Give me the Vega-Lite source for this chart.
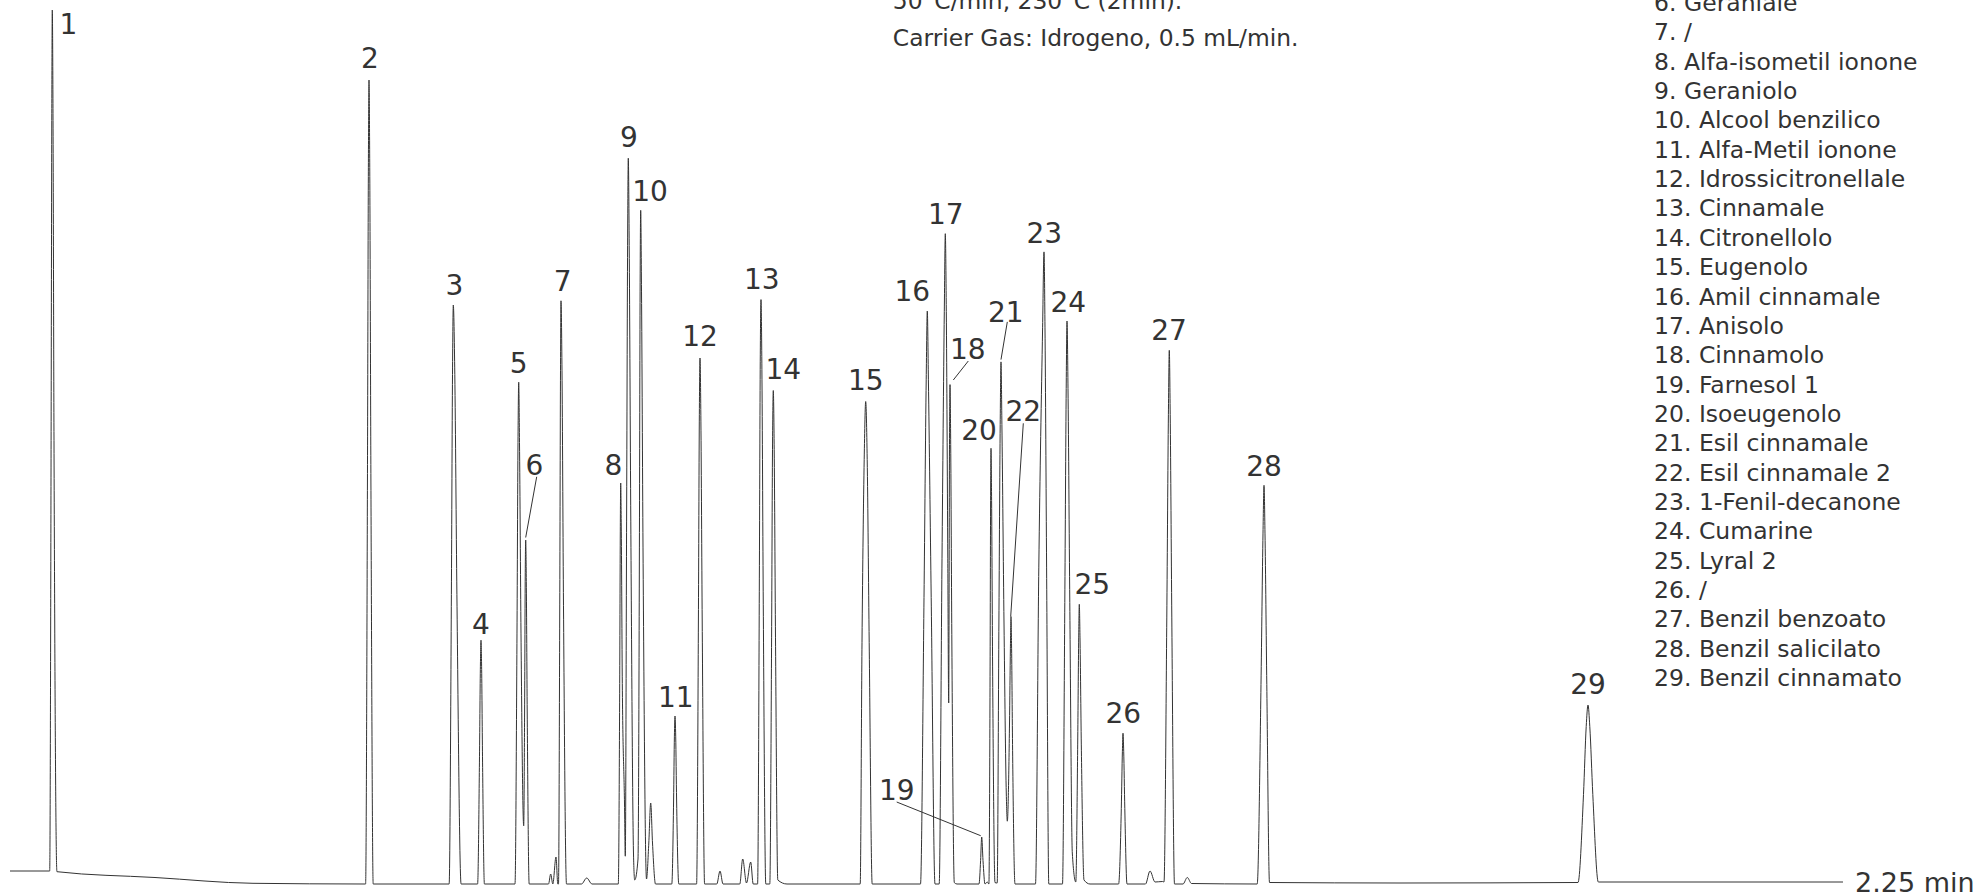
{
  "$schema": "https://vega.github.io/schema/vega-lite/v6.json",
  "width": 1980,
  "height": 893,
  "padding": 0,
  "autosize": {"type": "none"},
  "background": "white",
  "config": {
    "view": {"stroke": null},
    "text": {"font": "DejaVu Sans", "color": "#333333"}
  },
  "resolve": {"scale": {"y": "independent"}},
  "layer": [
    {
      "data": {"values": [
        {"rt": 0, "signal": 1.3},
        {"rt": 0.04873, "signal": 1.3},
        {"rt": 0.05045, "signal": 44.35},
        {"rt": 0.05131, "signal": 77.07},
        {"rt": 0.05192, "signal": 87.4},
        {"rt": 0.05278, "signal": 77.07},
        {"rt": 0.05401, "signal": 44.35},
        {"rt": 0.05762, "signal": 1.23},
        {"rt": 0.17799, "signal": 0.65},
        {"rt": 0.29828, "signal": 0.07},
        {"rt": 0.4365, "signal": 0},
        {"rt": 0.43876, "signal": 40.2},
        {"rt": 0.43987, "signal": 70.75},
        {"rt": 0.44067, "signal": 80.4},
        {"rt": 0.44165, "signal": 70.75},
        {"rt": 0.44303, "signal": 40.2},
        {"rt": 0.44583, "signal": 0},
        {"rt": 0.53904, "signal": 0},
        {"rt": 0.54179, "signal": 28.95},
        {"rt": 0.54317, "signal": 50.95},
        {"rt": 0.54415, "signal": 57.9},
        {"rt": 0.54599, "signal": 50.95},
        {"rt": 0.54857, "signal": 28.95},
        {"rt": 0.55373, "signal": 0},
        {"rt": 0.57398, "signal": 0},
        {"rt": 0.57624, "signal": 12.19},
        {"rt": 0.57736, "signal": 21.45},
        {"rt": 0.57815, "signal": 24.38},
        {"rt": 0.57895, "signal": 21.45},
        {"rt": 0.58007, "signal": 12.19},
        {"rt": 0.58233, "signal": 0},
        {"rt": 0.61989, "signal": 0},
        {"rt": 0.62234, "signal": 25.09},
        {"rt": 0.62357, "signal": 44.16},
        {"rt": 0.62443, "signal": 50.18},
        {"rt": 0.62541, "signal": 44.16},
        {"rt": 0.62725, "signal": 25.09},
        {"rt": 0.63057, "signal": 5.82},
        {"rt": 0.63167, "signal": 17.2},
        {"rt": 0.63241, "signal": 30.27},
        {"rt": 0.63302, "signal": 34.4},
        {"rt": 0.63376, "signal": 30.27},
        {"rt": 0.63487, "signal": 17.2},
        {"rt": 0.63732, "signal": 0},
        {"rt": 0.66102, "signal": 0},
        {"rt": 0.66371, "signal": 1.0},
        {"rt": 0.66629, "signal": 0},
        {"rt": 0.67022, "signal": 2.7},
        {"rt": 0.67242, "signal": 0},
        {"rt": 0.67328, "signal": 0},
        {"rt": 0.67488, "signal": 29.16},
        {"rt": 0.67574, "signal": 51.32},
        {"rt": 0.67635, "signal": 58.32},
        {"rt": 0.67758, "signal": 51.32},
        {"rt": 0.6793, "signal": 29.16},
        {"rt": 0.6831, "signal": 0},
        {"rt": 0.70152, "signal": 0},
        {"rt": 0.7079, "signal": 0.6},
        {"rt": 0.71441, "signal": 0},
        {"rt": 0.74669, "signal": 0},
        {"rt": 0.74841, "signal": 20.05},
        {"rt": 0.74914, "signal": 35.29},
        {"rt": 0.74963, "signal": 40.1},
        {"rt": 0.75037, "signal": 35.29},
        {"rt": 0.7516, "signal": 20.05},
        {"rt": 0.75431, "signal": 8.0},
        {"rt": 0.75528, "signal": 2.78},
        {"rt": 0.75688, "signal": 36.29},
        {"rt": 0.7581, "signal": 63.87},
        {"rt": 0.75896, "signal": 72.58},
        {"rt": 0.76007, "signal": 63.87},
        {"rt": 0.76203, "signal": 36.29},
        {"rt": 0.76535, "signal": 3.0},
        {"rt": 0.76682, "signal": 0.4},
        {"rt": 0.77087, "signal": 2.5},
        {"rt": 0.77259, "signal": 33.69},
        {"rt": 0.77345, "signal": 59.29},
        {"rt": 0.77418, "signal": 67.37},
        {"rt": 0.77517, "signal": 59.29},
        {"rt": 0.77701, "signal": 33.69},
        {"rt": 0.78131, "signal": 0.5},
        {"rt": 0.78413, "signal": 4.1},
        {"rt": 0.78646, "signal": 8.1},
        {"rt": 0.78867, "signal": 4.1},
        {"rt": 0.79236, "signal": 0},
        {"rt": 0.81236, "signal": 0},
        {"rt": 0.81457, "signal": 8.4},
        {"rt": 0.81555, "signal": 14.78},
        {"rt": 0.81629, "signal": 16.8},
        {"rt": 0.81715, "signal": 14.78},
        {"rt": 0.81825, "signal": 8.4},
        {"rt": 0.82095, "signal": 0},
        {"rt": 0.8428, "signal": 0},
        {"rt": 0.84501, "signal": 26.3},
        {"rt": 0.84612, "signal": 46.29},
        {"rt": 0.84698, "signal": 52.6},
        {"rt": 0.84808, "signal": 46.29},
        {"rt": 0.84968, "signal": 26.3},
        {"rt": 0.85262, "signal": 0},
        {"rt": 0.8676, "signal": 0},
        {"rt": 0.87153, "signal": 1.3},
        {"rt": 0.87521, "signal": 0},
        {"rt": 0.89583, "signal": 0},
        {"rt": 0.89939, "signal": 2.5},
        {"rt": 0.90405, "signal": 0.1},
        {"rt": 0.90921, "signal": 2.2},
        {"rt": 0.91228, "signal": 0},
        {"rt": 0.91768, "signal": 0},
        {"rt": 0.91977, "signal": 29.22},
        {"rt": 0.92087, "signal": 51.43},
        {"rt": 0.92185, "signal": 58.44},
        {"rt": 0.92296, "signal": 51.43},
        {"rt": 0.92455, "signal": 29.22},
        {"rt": 0.92774, "signal": 0},
        {"rt": 0.93265, "signal": 0},
        {"rt": 0.93486, "signal": 24.68},
        {"rt": 0.93597, "signal": 43.43},
        {"rt": 0.93695, "signal": 49.35},
        {"rt": 0.93806, "signal": 43.43},
        {"rt": 0.93965, "signal": 24.68},
        {"rt": 0.94247, "signal": 0.4},
        {"rt": 0.95377, "signal": 0},
        {"rt": 1.04362, "signal": 0},
        {"rt": 1.04583, "signal": 24.13},
        {"rt": 1.04853, "signal": 42.46},
        {"rt": 1.05037, "signal": 48.25},
        {"rt": 1.05221, "signal": 42.46},
        {"rt": 1.05467, "signal": 24.13},
        {"rt": 1.05835, "signal": 0},
        {"rt": 1.11764, "signal": 0},
        {"rt": 1.12194, "signal": 28.65},
        {"rt": 1.12464, "signal": 50.42},
        {"rt": 1.12599, "signal": 57.3},
        {"rt": 1.12734, "signal": 50.42},
        {"rt": 1.13077, "signal": 28.65},
        {"rt": 1.13544, "signal": 0},
        {"rt": 1.14059, "signal": 0},
        {"rt": 1.14403, "signal": 32.52},
        {"rt": 1.14685, "signal": 57.23},
        {"rt": 1.14808, "signal": 65.03},
        {"rt": 1.14931, "signal": 57.23},
        {"rt": 1.15115, "signal": 32.52},
        {"rt": 1.15225, "signal": 18.1},
        {"rt": 1.15324, "signal": 43.95},
        {"rt": 1.15385, "signal": 49.94},
        {"rt": 1.15471, "signal": 43.95},
        {"rt": 1.15606, "signal": 24.97},
        {"rt": 1.15913, "signal": 0.14},
        {"rt": 1.16244, "signal": 0},
        {"rt": 1.18945, "signal": 0},
        {"rt": 1.19141, "signal": 2.35},
        {"rt": 1.19276, "signal": 4.7},
        {"rt": 1.19436, "signal": 2.35},
        {"rt": 1.19681, "signal": 0},
        {"rt": 1.19964, "signal": 0.2},
        {"rt": 1.2016, "signal": 0},
        {"rt": 1.20307, "signal": 21.79},
        {"rt": 1.20369, "signal": 38.34},
        {"rt": 1.20418, "signal": 43.57},
        {"rt": 1.20491, "signal": 38.34},
        {"rt": 1.20614, "signal": 21.79},
        {"rt": 1.20909, "signal": 0.14},
        {"rt": 1.21179, "signal": 0.1},
        {"rt": 1.21387, "signal": 26.1},
        {"rt": 1.21547, "signal": 45.94},
        {"rt": 1.21645, "signal": 52.21},
        {"rt": 1.21756, "signal": 45.94},
        {"rt": 1.22014, "signal": 26.1},
        {"rt": 1.22296, "signal": 9.0},
        {"rt": 1.22419, "signal": 6.28},
        {"rt": 1.22689, "signal": 16.0},
        {"rt": 1.22799, "signal": 23.53},
        {"rt": 1.22873, "signal": 26.74},
        {"rt": 1.22946, "signal": 23.53},
        {"rt": 1.23069, "signal": 13.37},
        {"rt": 1.23364, "signal": 0},
        {"rt": 1.2588, "signal": 0},
        {"rt": 1.26285, "signal": 31.61},
        {"rt": 1.26752, "signal": 55.62},
        {"rt": 1.26924, "signal": 63.21},
        {"rt": 1.27046, "signal": 55.62},
        {"rt": 1.27243, "signal": 31.61},
        {"rt": 1.27513, "signal": 0},
        {"rt": 1.29194, "signal": 0},
        {"rt": 1.29477, "signal": 28.15},
        {"rt": 1.29649, "signal": 49.54},
        {"rt": 1.29747, "signal": 56.3},
        {"rt": 1.2987, "signal": 49.54},
        {"rt": 1.3009, "signal": 28.15},
        {"rt": 1.30397, "signal": 3.1},
        {"rt": 1.30827, "signal": 0.2},
        {"rt": 1.3106, "signal": 13.99},
        {"rt": 1.31183, "signal": 24.61},
        {"rt": 1.31257, "signal": 27.97},
        {"rt": 1.31343, "signal": 24.61},
        {"rt": 1.31502, "signal": 13.99},
        {"rt": 1.31834, "signal": 0.4},
        {"rt": 1.3257, "signal": 0},
        {"rt": 1.36081, "signal": 0},
        {"rt": 1.36412, "signal": 7.54},
        {"rt": 1.36547, "signal": 13.27},
        {"rt": 1.36621, "signal": 15.08},
        {"rt": 1.36707, "signal": 13.27},
        {"rt": 1.36842, "signal": 7.54},
        {"rt": 1.37112, "signal": 0},
        {"rt": 1.39383, "signal": 0},
        {"rt": 1.39935, "signal": 1.3},
        {"rt": 1.40549, "signal": 0.2},
        {"rt": 1.41469, "signal": 0.25},
        {"rt": 1.41654, "signal": 0.2},
        {"rt": 1.41997, "signal": 26.69},
        {"rt": 1.42194, "signal": 46.97},
        {"rt": 1.42304, "signal": 53.37},
        {"rt": 1.42415, "signal": 46.97},
        {"rt": 1.42611, "signal": 26.69},
        {"rt": 1.42942, "signal": 0},
        {"rt": 1.43986, "signal": 0},
        {"rt": 1.44513, "signal": 0.65},
        {"rt": 1.45029, "signal": 0.05},
        {"rt": 1.53094, "signal": 0},
        {"rt": 1.5356, "signal": 19.94},
        {"rt": 1.53806, "signal": 35.09},
        {"rt": 1.53929, "signal": 39.87},
        {"rt": 1.54051, "signal": 35.09},
        {"rt": 1.54272, "signal": 19.94},
        {"rt": 1.54604, "signal": 0.15},
        {"rt": 1.70623, "signal": 0.1},
        {"rt": 1.92472, "signal": 0.15},
        {"rt": 1.93147, "signal": 8.95},
        {"rt": 1.93479, "signal": 15.75},
        {"rt": 1.937, "signal": 17.9},
        {"rt": 1.9392, "signal": 15.75},
        {"rt": 1.94289, "signal": 8.95},
        {"rt": 1.94964, "signal": 0.2},
        {"rt": 2.25, "signal": 0.2}
      ]},
      "mark": {"type": "line", "interpolate": "monotone", "color": "#333333", "strokeWidth": 1, "clip": false},
      "encoding": {
        "x": {"field": "rt", "type": "quantitative", "scale": {"domain": [-0.012275, 2.418175], "nice": false, "zero": false}, "axis": null},
        "y": {"field": "signal", "type": "quantitative", "scale": {"domain": [-0.9, 88.4], "nice": false, "zero": false}, "axis": null}
      }
    },
    {
      "data": {"values": [
        {"peak": 6, "rt": 0.64652, "sig": 40.72, "rt2": 0.63302, "sig2": 34.65},
        {"peak": 18, "rt": 1.17631, "sig": 52.3, "rt2": 1.1579, "sig2": 50.4},
        {"peak": 19, "rt": 1.08842, "sig": 8.2, "rt2": 1.19153, "sig2": 4.83},
        {"peak": 21, "rt": 1.22419, "sig": 56.21, "rt2": 1.21645, "sig2": 52.44},
        {"peak": 22, "rt": 1.24383, "sig": 46.07, "rt2": 1.22836, "sig2": 26.74}
      ]},
      "mark": {"type": "rule", "color": "#333333", "strokeWidth": 1},
      "encoding": {
        "x": {"field": "rt", "type": "quantitative", "scale": {"domain": [-0.012275, 2.418175], "nice": false, "zero": false}, "axis": null},
        "x2": {"field": "rt2"},
        "y": {"field": "sig", "type": "quantitative", "scale": {"domain": [-0.9, 88.4], "nice": false, "zero": false}, "axis": null},
        "y2": {"field": "sig2"}
      }
    },
    {
      "data": {"values": [
        {"peak": "1", "rt": 0.07156, "sig": 85.03},
        {"peak": "2", "rt": 0.4419, "sig": 81.62},
        {"peak": "3", "rt": 0.54538, "sig": 58.92},
        {"peak": "4", "rt": 0.57815, "sig": 25.03},
        {"peak": "5", "rt": 0.62443, "sig": 51.08},
        {"peak": "6", "rt": 0.64358, "sig": 40.86},
        {"peak": "7", "rt": 0.67844, "sig": 59.28},
        {"peak": "8", "rt": 0.74055, "sig": 40.86},
        {"peak": "9", "rt": 0.75982, "sig": 73.74},
        {"peak": "10", "rt": 0.7856, "sig": 68.28},
        {"peak": "11", "rt": 0.81715, "sig": 17.69},
        {"peak": "12", "rt": 0.84698, "sig": 53.76},
        {"peak": "13", "rt": 0.92271, "sig": 59.47},
        {"peak": "14", "rt": 0.94923, "sig": 50.51},
        {"peak": "15", "rt": 1.05037, "sig": 49.38},
        {"peak": "16", "rt": 1.10757, "sig": 58.33},
        {"peak": "17", "rt": 1.14857, "sig": 65.97},
        {"peak": "18", "rt": 1.17558, "sig": 52.46},
        {"peak": "19", "rt": 1.08842, "sig": 8.44},
        {"peak": "20", "rt": 1.18945, "sig": 44.37},
        {"peak": "21", "rt": 1.22222, "sig": 56.19},
        {"peak": "22", "rt": 1.24383, "sig": 46.32},
        {"peak": "23", "rt": 1.2696, "sig": 64.15},
        {"peak": "24", "rt": 1.29906, "sig": 57.19},
        {"peak": "25", "rt": 1.32852, "sig": 29.0},
        {"peak": "26", "rt": 1.36658, "sig": 16.08},
        {"peak": "27", "rt": 1.42267, "sig": 54.43},
        {"peak": "28", "rt": 1.53929, "sig": 40.85},
        {"peak": "29", "rt": 1.937, "sig": 19.05}
      ]},
      "mark": {"type": "text", "align": "center", "baseline": "alphabetic", "fontSize": 28},
      "encoding": {
        "x": {"field": "rt", "type": "quantitative", "scale": {"domain": [-0.012275, 2.418175], "nice": false, "zero": false}, "axis": null},
        "y": {"field": "sig", "type": "quantitative", "scale": {"domain": [-0.9, 88.4], "nice": false, "zero": false}, "axis": null},
        "text": {"field": "peak"}
      }
    },
    {
      "data": {"values": [{"note": "method"}]},
      "mark": {"type": "text", "align": "left", "baseline": "alphabetic", "fontSize": 23.4, "lineHeight": 36.4},
      "encoding": {
        "x": {"datum": 1.0837, "type": "quantitative", "scale": {"domain": [-0.012275, 2.418175], "nice": false, "zero": false}, "axis": null},
        "y": {"datum": 87.47, "type": "quantitative", "scale": {"domain": [-0.9, 88.4], "nice": false, "zero": false}, "axis": null},
        "text": {"value": ["50°C/min, 230°C (2min).", "Carrier Gas: Idrogeno, 0.5 mL/min."]}
      }
    },
    {
      "data": {"values": [
        {"n": 6, "label": "6. Geraniale"},
        {"n": 7, "label": "7. /"},
        {"n": 8, "label": "8. Alfa-isometil ionone"},
        {"n": 9, "label": "9. Geraniolo"},
        {"n": 10, "label": "10. Alcool benzilico"},
        {"n": 11, "label": "11. Alfa-Metil ionone"},
        {"n": 12, "label": "12. Idrossicitronellale"},
        {"n": 13, "label": "13. Cinnamale"},
        {"n": 14, "label": "14. Citronellolo"},
        {"n": 15, "label": "15. Eugenolo"},
        {"n": 16, "label": "16. Amil cinnamale"},
        {"n": 17, "label": "17. Anisolo"},
        {"n": 18, "label": "18. Cinnamolo"},
        {"n": 19, "label": "19. Farnesol 1"},
        {"n": 20, "label": "20. Isoeugenolo"},
        {"n": 21, "label": "21. Esil cinnamale"},
        {"n": 22, "label": "22. Esil cinnamale 2"},
        {"n": 23, "label": "23. 1-Fenil-decanone"},
        {"n": 24, "label": "24. Cumarine"},
        {"n": 25, "label": "25. Lyral 2"},
        {"n": 26, "label": "26. /"},
        {"n": 27, "label": "27. Benzil benzoato"},
        {"n": 28, "label": "28. Benzil salicilato"},
        {"n": 29, "label": "29. Benzil cinnamato"}
      ]},
      "mark": {"type": "text", "align": "left", "baseline": "alphabetic", "fontSize": 23.5},
      "encoding": {
        "x": {"datum": 2.01813, "type": "quantitative", "scale": {"domain": [-0.012275, 2.418175], "nice": false, "zero": false}, "axis": null},
        "y": {"field": "n", "type": "quantitative", "scale": {"domain": [5.6252, 36.0511], "reverse": true, "nice": false, "zero": false}, "axis": null},
        "text": {"field": "label"}
      }
    },
    {
      "data": {"values": [{"rt": 2.25, "unit": "2.25 min"}]},
      "mark": {"type": "text", "align": "left", "baseline": "alphabetic", "fontSize": 27, "dx": 12},
      "encoding": {
        "x": {"field": "rt", "type": "quantitative", "scale": {"domain": [-0.012275, 2.418175], "nice": false, "zero": false}, "axis": null},
        "y": {"datum": -0.77, "type": "quantitative", "scale": {"domain": [-0.9, 88.4], "nice": false, "zero": false}, "axis": null},
        "text": {"field": "unit"}
      }
    }
  ]
}
